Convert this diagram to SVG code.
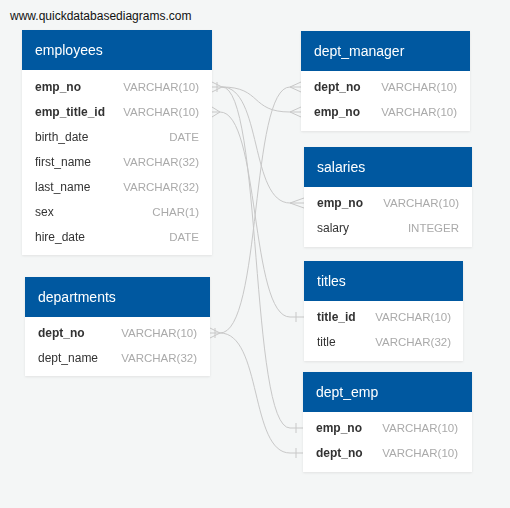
<svg xmlns="http://www.w3.org/2000/svg" width="510" height="508" viewBox="0 0 510 508">
<style>
.hd{fill:#0059a0}
.bd{fill:#ffffff}
.ht{font-family:"Liberation Sans",Arial,sans-serif;font-size:14px;fill:#ffffff}
.fn{font-family:"Liberation Sans",Arial,sans-serif;font-size:12px;fill:#333333}
.pk{font-weight:bold}
.ty{font-family:"Liberation Sans",Arial,sans-serif;font-size:11.5px;fill:#aaaaaa;text-anchor:end}
.cn{fill:none;stroke:#c8c8c8;stroke-width:1}
</style>
<defs>
<filter id="sh" x="-10%" y="-10%" width="120%" height="120%">
<feDropShadow dx="0" dy="1" stdDeviation="1.2" flood-color="#000" flood-opacity="0.08"/>
</filter>
</defs>
<rect x="0" y="0" width="510" height="508" fill="#f4f6f6"/>
<text x="10" y="20" font-family="Liberation Sans, Arial, sans-serif" font-size="12" fill="#111111">www.quickdatabasediagrams.com</text>

<g id="connectors">
<path class="cn" d="M222 87 C262 87 250 112 290 112"/>
<path class="cn" d="M222 87 C262 87 250 203 290 203"/>
<path class="cn" d="M222 87 C262 87 250 428 290 428"/>
<path class="cn" d="M220 112 C260 112 250 317 290 317"/>
<path class="cn" d="M220 333 C262 333 250 87 290 87"/>
<path class="cn" d="M220 333 C262 333 250 453 290 453"/>
<path class="cn" d="M212 82 L222 87 L212 92 M212 87 L222 87 M217 82 L217 92"/>
<path class="cn" d="M212 107 L220 112 L212 117 M212 112 L220 112"/>
<path class="cn" d="M210 328 L220 333 L210 338 M210 333 L220 333 M215 328 L215 338"/>
<path class="cn" d="M301 82 L290 87 L301 92 M290 87 L301 87"/>
<path class="cn" d="M301 107 L290 112 L301 117 M290 112 L301 112"/>
<path class="cn" d="M304 198 L290 203 L304 208 M290 203 L304 203"/>
<path class="cn" d="M290 317 L304 317 M296 312 L296 322"/>
<path class="cn" d="M290 428 L303 428 M296 423 L296 433"/>
<path class="cn" d="M290 453 L303 453 M296 448 L296 458"/>
</g>

<g id="employees" filter="url(#sh)">
<rect class="bd" x="22" y="70" width="190" height="185"/>
<rect class="hd" x="22" y="30" width="190" height="40"/>
<text class="ht" x="35" y="55">employees</text>
<text class="fn pk" x="35" y="91">emp_no</text><text class="ty" x="199" y="91">VARCHAR(10)</text>
<text class="fn pk" x="35" y="116">emp_title_id</text><text class="ty" x="199" y="116">VARCHAR(10)</text>
<text class="fn" x="35" y="141">birth_date</text><text class="ty" x="199" y="141">DATE</text>
<text class="fn" x="35" y="166">first_name</text><text class="ty" x="199" y="166">VARCHAR(32)</text>
<text class="fn" x="35" y="191">last_name</text><text class="ty" x="199" y="191">VARCHAR(32)</text>
<text class="fn" x="35" y="216">sex</text><text class="ty" x="199" y="216">CHAR(1)</text>
<text class="fn" x="35" y="241">hire_date</text><text class="ty" x="199" y="241">DATE</text>
</g>

<g id="departments" filter="url(#sh)">
<rect class="bd" x="25" y="317" width="185" height="59"/>
<rect class="hd" x="25" y="277" width="185" height="40"/>
<text class="ht" x="38" y="302">departments</text>
<text class="fn pk" x="38" y="337">dept_no</text><text class="ty" x="197" y="337">VARCHAR(10)</text>
<text class="fn" x="38" y="362">dept_name</text><text class="ty" x="197" y="362">VARCHAR(32)</text>
</g>

<g id="dept_manager" filter="url(#sh)">
<rect class="bd" x="301" y="71" width="169" height="60"/>
<rect class="hd" x="301" y="31" width="169" height="40"/>
<text class="ht" x="314" y="56">dept_manager</text>
<text class="fn pk" x="314" y="91">dept_no</text><text class="ty" x="457" y="91">VARCHAR(10)</text>
<text class="fn pk" x="314" y="116">emp_no</text><text class="ty" x="457" y="116">VARCHAR(10)</text>
</g>

<g id="salaries" filter="url(#sh)">
<rect class="bd" x="304" y="187" width="168" height="60"/>
<rect class="hd" x="304" y="147" width="168" height="40"/>
<text class="ht" x="317" y="172">salaries</text>
<text class="fn pk" x="317" y="207">emp_no</text><text class="ty" x="459" y="207">VARCHAR(10)</text>
<text class="fn" x="317" y="232">salary</text><text class="ty" x="459" y="232">INTEGER</text>
</g>

<g id="titles" filter="url(#sh)">
<rect class="bd" x="304" y="301" width="159" height="60"/>
<rect class="hd" x="304" y="261" width="159" height="40"/>
<text class="ht" x="317" y="286">titles</text>
<text class="fn pk" x="317" y="321">title_id</text><text class="ty" x="451" y="321">VARCHAR(10)</text>
<text class="fn" x="317" y="346">title</text><text class="ty" x="451" y="346">VARCHAR(32)</text>
</g>

<g id="dept_emp" filter="url(#sh)">
<rect class="bd" x="303" y="412" width="169" height="60"/>
<rect class="hd" x="303" y="372" width="169" height="40"/>
<text class="ht" x="316" y="397">dept_emp</text>
<text class="fn pk" x="316" y="432">emp_no</text><text class="ty" x="458" y="432">VARCHAR(10)</text>
<text class="fn pk" x="316" y="457">dept_no</text><text class="ty" x="458" y="457">VARCHAR(10)</text>
</g>
</svg>
